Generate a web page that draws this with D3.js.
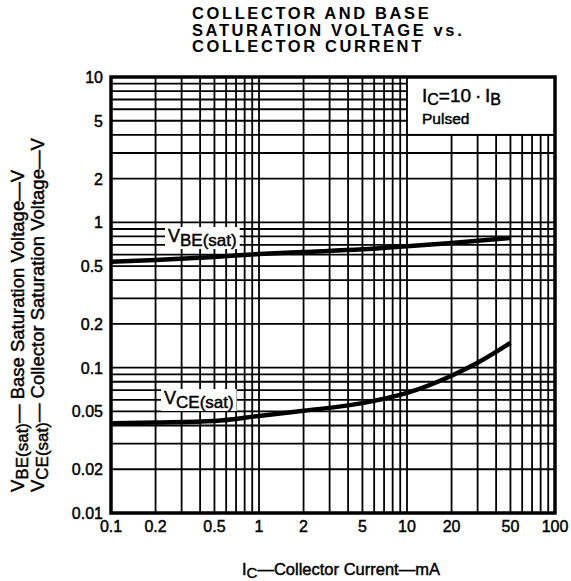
<!DOCTYPE html>
<html>
<head>
<meta charset="utf-8">
<script src="https://cdn.jsdelivr.net/npm/d3@7"></script>
<style>
  body { margin: 0; background: #fff; }
  svg { font-family: "Liberation Sans", Arial, sans-serif; }
  .lbl { stroke: #000; stroke-width: 0.45; }
</style>
</head>
<body>
<svg id="chart" width="571" height="581"></svg>
<script>
// collector current (mA)
const icVbe = [0.1, 0.2, 0.5, 1, 2, 5, 10, 20, 50];
const vbeSat = [0.535, 0.55, 0.578, 0.605, 0.625, 0.652, 0.685, 0.722, 0.78];
const icVce = [0.1, 0.2, 0.5, 1, 2, 5, 10, 20, 30, 50];
const vceSat = [0.0415, 0.042, 0.043, 0.0465, 0.0505, 0.057, 0.067, 0.088, 0.108, 0.148];
const xTicks = [0.1, 0.2, 0.5, 1, 2, 5, 10, 20, 50, 100];
const yTicks = [0.01, 0.02, 0.05, 0.1, 0.2, 0.5, 1, 2, 5, 10];

const svg = d3.select('#chart');
const margin = { top: 77, right: 16, bottom: 68, left: 111 };
const width = 571, height = 581;

const x = d3.scaleLog().domain([0.1, 100]).range([margin.left, width - margin.right]);
const y = d3.scaleLog().domain([0.01, 10]).range([height - margin.bottom, margin.top]);

// full 1..9 grid per decade
const gridX = [], gridY = [];
for (let d = 0.1; d < 100; d *= 10) for (let m = 1; m < 10; m++) gridX.push(+(d * m).toPrecision(3));
for (let d = 0.01; d < 10; d *= 10) for (let m = 1; m < 10; m++) gridY.push(+(d * m).toPrecision(3));

const g = svg.append('g');
g.selectAll('line.gx').data(gridX).enter().append('line')
  .attr('x1', d => x(d)).attr('x2', d => x(d))
  .attr('y1', y(10)).attr('y2', y(0.01))
  .attr('stroke', '#000').attr('stroke-width', 1.8);
g.selectAll('line.gy').data(gridY).enter().append('line')
  .attr('x1', x(0.1)).attr('x2', x(100))
  .attr('y1', d => y(d)).attr('y2', d => y(d))
  .attr('stroke', '#000').attr('stroke-width', 1.8);

// condition box (covers grid in the top right)
svg.append('rect')
  .attr('x', x(10)).attr('y', y(10))
  .attr('width', x(100) - x(10)).attr('height', y(4) - y(10))
  .attr('fill', '#fff').attr('stroke', '#000').attr('stroke-width', 1.8);
const cond = svg.append('text').attr('class', 'lbl').attr('x', x(10) + 15).attr('y', y(10) + 25)
  .attr('font-size', 19);
cond.append('tspan').text('I');
cond.append('tspan').attr('dy', 3).attr('font-size', 16).text('C');
cond.append('tspan').attr('dy', -3).text('=10\u2009·\u2009I');
cond.append('tspan').attr('dy', 3).attr('font-size', 16).text('B');
svg.append('text').attr('class', 'lbl').attr('x', x(10) + 15).attr('y', y(10) + 47)
  .attr('font-size', 15.5).text('Pulsed');

// curves
const line = d3.line().x(d => x(d[0])).y(d => y(d[1])).curve(d3.curveMonotoneX);
svg.append('path').datum(d3.zip(icVbe, vbeSat))
  .attr('d', line).attr('fill', 'none').attr('stroke', '#000').attr('stroke-width', 4.5);
svg.append('path').datum(d3.zip(icVce, vceSat))
  .attr('d', line).attr('fill', 'none').attr('stroke', '#000').attr('stroke-width', 4.5);

// curve labels
function curveLabel(px, py, sub) {
  const t = svg.append('text').attr('class', 'lbl').attr('x', px).attr('y', py).attr('font-size', 18);
  t.append('tspan').text('V');
  t.append('tspan').attr('dy', 4).attr('font-size', 17).text(sub);
  const bb = t.node().getBBox();
  svg.insert('rect', () => t.node())
    .attr('x', bb.x - 3).attr('y', bb.y + 1)
    .attr('width', bb.width + 6).attr('height', bb.height - 2)
    .attr('fill', '#fff');
}
curveLabel(168, 242, 'BE(sat)');
curveLabel(164, 404, 'CE(sat)');

// frame
svg.append('rect')
  .attr('x', x(0.1)).attr('y', y(10))
  .attr('width', x(100) - x(0.1)).attr('height', y(0.01) - y(10))
  .attr('fill', 'none').attr('stroke', '#000').attr('stroke-width', 3.5);

// tick labels
const fmt = d => String(d);
svg.append('g').selectAll('text').data(xTicks).enter().append('text')
  .attr('class', 'lbl')
  .attr('x', d => x(d)).attr('y', y(0.01) + 19)
  .attr('text-anchor', 'middle').attr('font-size', 16).text(fmt);
svg.append('g').selectAll('text').data(yTicks).enter().append('text')
  .attr('class', 'lbl')
  .attr('x', x(0.1) - 8).attr('y', d => y(d) + 6)
  .attr('text-anchor', 'end').attr('font-size', 16).text(fmt);

// title
const title = ['COLLECTOR AND BASE', 'SATURATION VOLTAGE vs.', 'COLLECTOR CURRENT'];
svg.append('g').selectAll('text').data(title).enter().append('text')
  .attr('x', 192).attr('y', (d, i) => 19 + i * 16.5)
  .attr('font-size', 16.5).attr('font-weight', 'bold').attr('letter-spacing', 2.6)
  .text(d => d);

// x axis title
const xt = svg.append('text').attr('class', 'lbl').attr('x', 242).attr('y', 575).attr('font-size', 16.5);
xt.append('tspan').text('I');
xt.append('tspan').attr('dy', 3).attr('font-size', 15).text('C');
xt.append('tspan').attr('dy', -3).text('\u2014Collector Current\u2014mA');

// y axis titles (two rotated lines)
function yTitle(px, sub, rest) {
  const t = svg.append('text').attr('class', 'lbl')
    .attr('transform', `translate(${px},492) rotate(-90)`)
    .attr('font-size', 18.5);
  t.append('tspan').text('V');
  t.append('tspan').attr('dy', 4).attr('font-size', 17).text(sub);
  t.append('tspan').attr('dy', -4).text(rest);
}
yTitle(24, 'BE(sat)', '\u2014 Base Saturation Voltage\u2014V');
yTitle(44, 'CE(sat)', '\u2014 Collector Saturation Voltage\u2014V');
</script>
</body>
</html>
